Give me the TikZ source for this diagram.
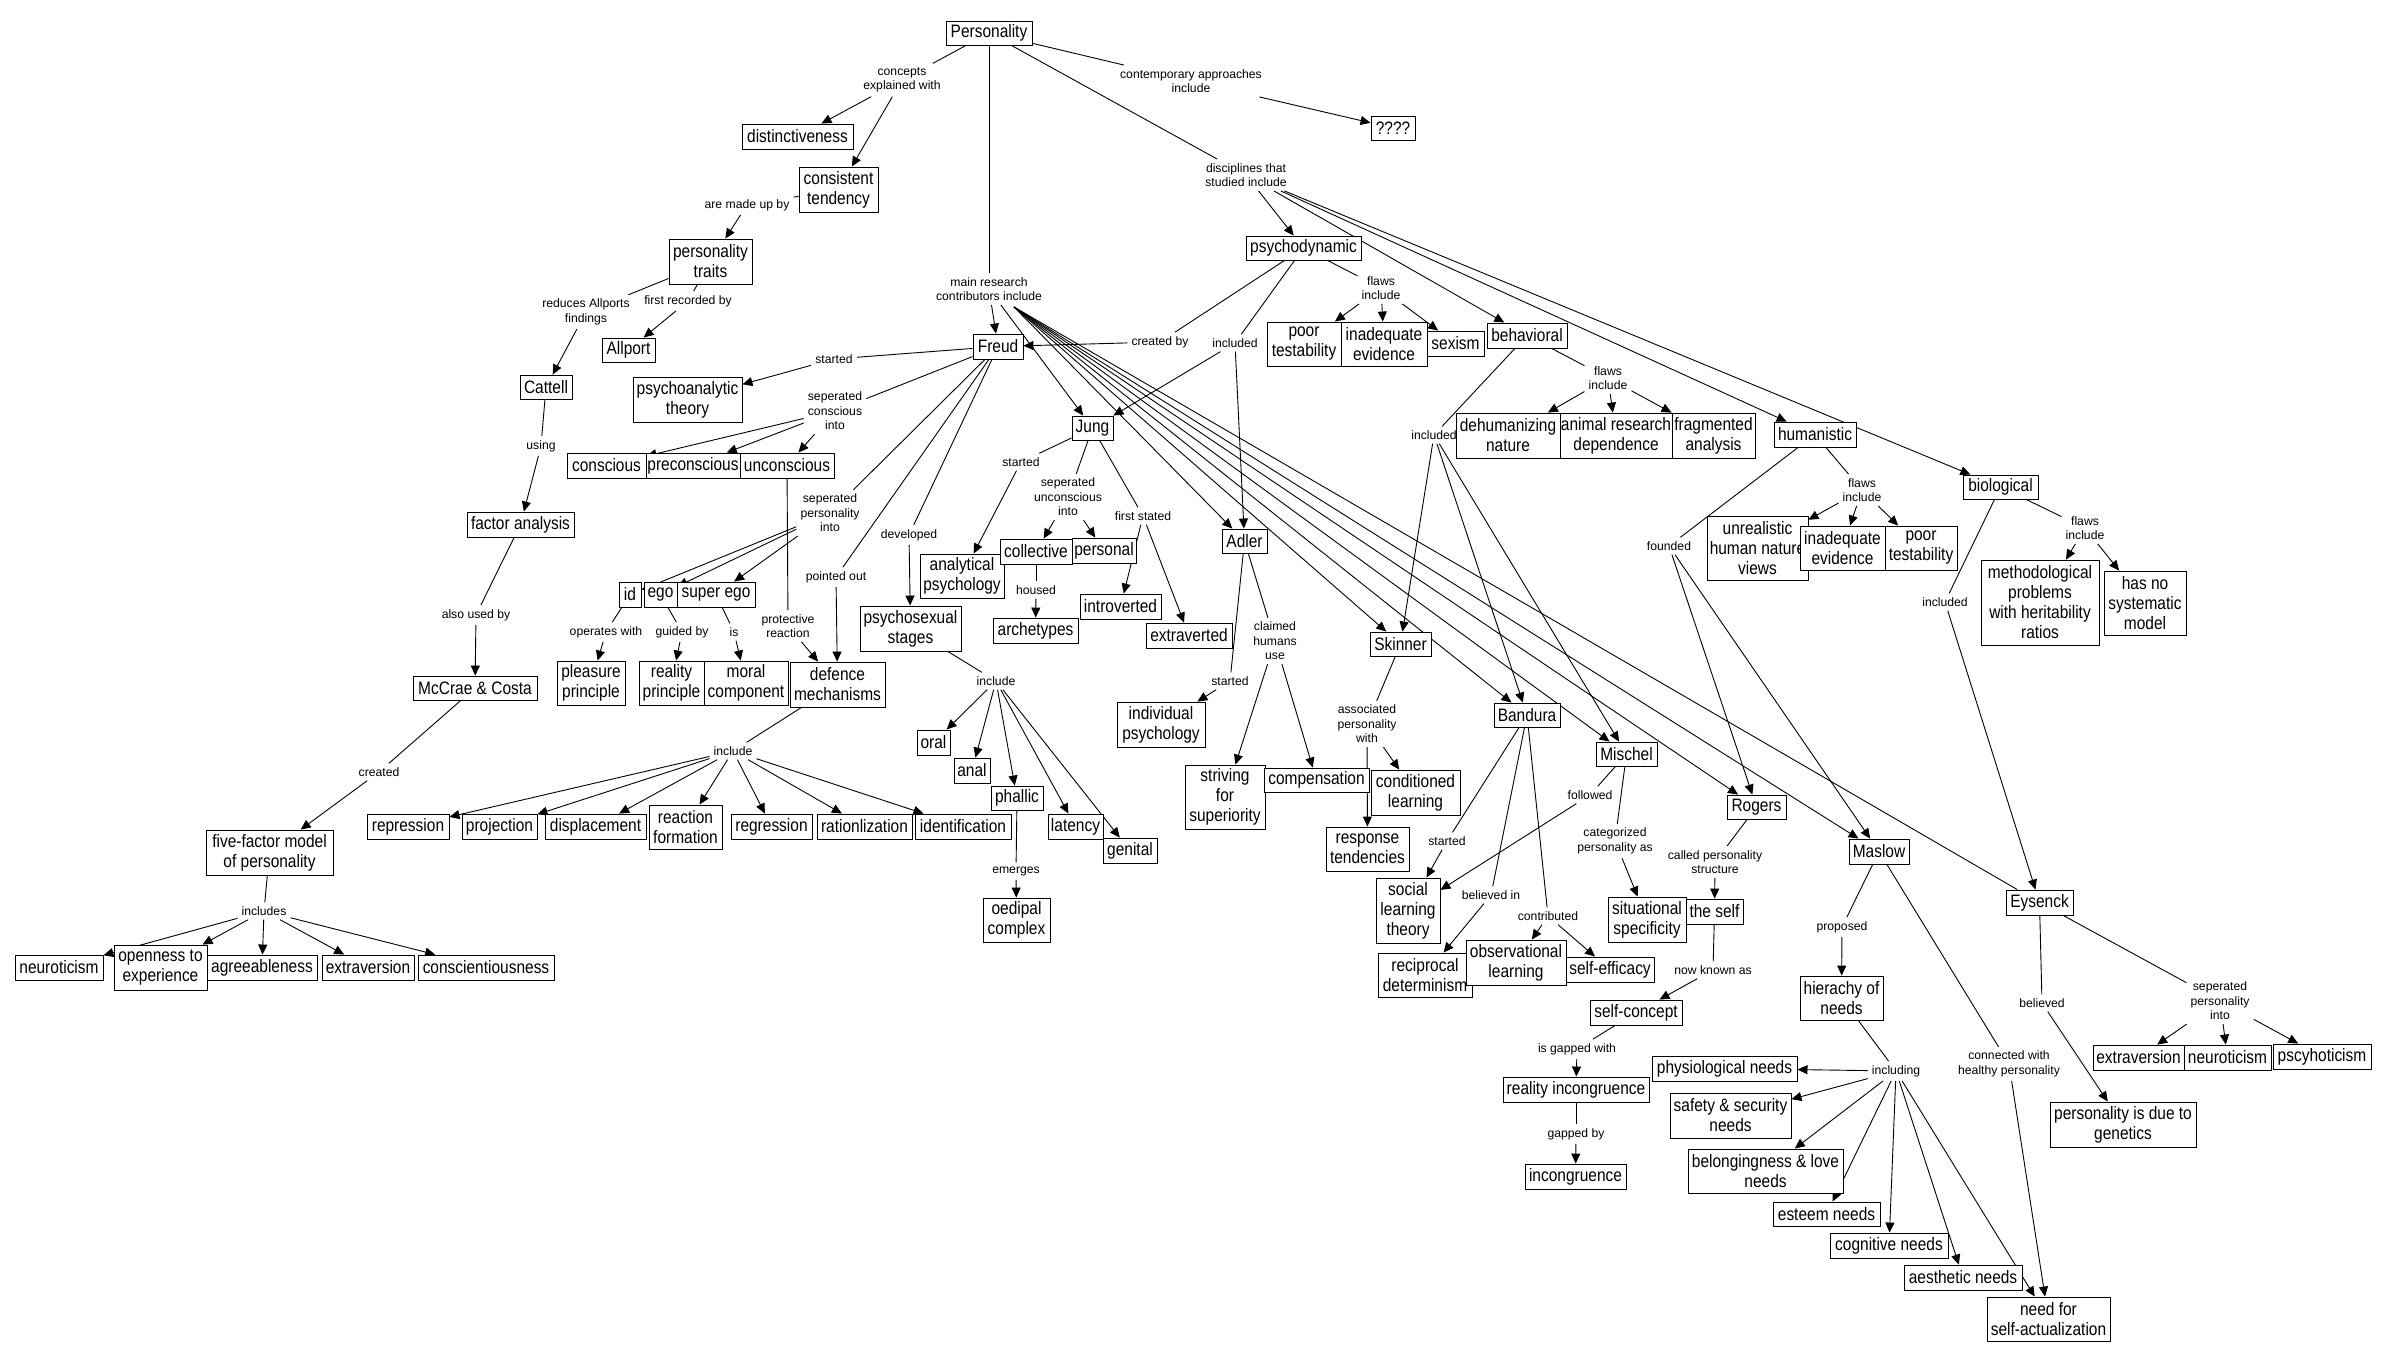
\documentclass[tikz,border=0pt]{standalone}
\usepackage{fontspec}
\usetikzlibrary{arrows.meta}
\newfontfamily\nodefont[FakeStretch=0.86]{Liberation Sans}
\newfontfamily\labfont{Liberation Sans}
\pgfdeclarelayer{bg}
\pgfsetlayers{bg,main}
\tikzset{
 cbox/.style={draw, fill=white, line width=0.9pt, inner sep=0pt, align=center, font=\nodefont\fontsize{18}{20}\selectfont},
 lab/.style={inner sep=4pt, align=center, font=\labfont\fontsize{12.2}{14.5}\selectfont},
 ln/.style={line width=0.9pt},
 arr/.style={line width=0.9pt, -{Triangle[length=10pt,width=9pt]}},
}
\newcommand\mybox[6]{\node[cbox,minimum width={#4pt-#2pt},minimum height={#5pt-#3pt}] (#1) at ({(#2+#4)/2},{(#3+#5)/2}) {#6};}
\newcommand\mylab[4]{\node[lab] (#1) at (#2,#3) {#4};}
\begin{document}
\begin{tikzpicture}[x=1pt,y=-1pt]
\begin{pgfonlayer}{bg}
\fill[white] (0,0) rectangle (2385,1361);
\end{pgfonlayer}
\useasboundingbox (0,0) rectangle (2385,1361);
% ---------- concept boxes
\mybox{pers}{946}{21}{1032}{45}{Personality}
\mybox{dist}{742}{124}{853}{149}{distinctiveness}
\mybox{cons}{799}{167}{878}{212}{consistent\\tendency}
\mybox{ptraits}{669}{239}{752}{284}{personality\\traits}
\mybox{allport}{602}{338}{655}{362}{Allport}
\mybox{psyan}{633}{377}{742}{422}{psychoanalytic\\theory}
\mybox{freud}{973}{334}{1023}{359}{Freud}
\mybox{jung}{1072}{416}{1113}{440}{Jung}
\mybox{q}{1371}{116}{1415}{140}{????}
\mybox{psydyn}{1246}{236}{1361}{260}{psychodynamic}
\mybox{poortest}{1267}{322}{1341}{366}{poor\\testability}
\mybox{inadev}{1341}{322}{1427}{366}{inadequate\\evidence}
\mybox{sexism}{1427}{331}{1484}{356}{sexism}
\mybox{behav}{1487}{323}{1567}{348}{behavioral}
\mybox{dehum}{1456}{413}{1560}{458}{dehumanizing\\nature}
\mybox{animal}{1560}{413}{1672}{458}{animal research\\dependence}
\mybox{frag}{1672}{413}{1755}{458}{fragmented\\analysis}
\mybox{human}{1774}{422}{1856}{447}{humanistic}
\mybox{bio}{1963}{475}{2038}{499}{biological}
\mybox{unreal}{1707}{516}{1808}{580}{unrealistic\\human nature\\views}
\mybox{inadev2}{1800}{526}{1885}{570}{inadequate\\evidence}
\mybox{poortest2}{1885}{526}{1957}{570}{poor\\testability}
\mybox{method}{1981}{560}{2099}{645}{methodological\\problems\\with heritability\\ratios}
\mybox{nosys}{2104}{571}{2186}{635}{has no\\systematic\\model}
\mybox{maslow}{1849}{839}{1909}{864}{Maslow}
\mybox{eysenck}{2006}{890}{2073}{915}{Eysenck}
\mybox{adler}{1222}{529}{1267}{553}{Adler}
\mybox{skinner}{1370}{632}{1431}{656}{Skinner}
\mybox{bandura}{1494}{703}{1560}{727}{Bandura}
\mybox{mischel}{1596}{742}{1657}{766}{Mischel}
\mybox{rogers}{1727}{795}{1786}{819}{Rogers}
\mybox{striving}{1185}{765}{1265}{829}{striving\\for\\superiority}
\mybox{comp}{1264}{768}{1369}{792}{compensation}
\mybox{condl}{1371}{770}{1460}{815}{conditioned\\learning}
\mybox{resp}{1326}{827}{1409}{871}{response\\tendencies}
\mybox{slt}{1376}{878}{1440}{943}{social\\learning\\theory}
\mybox{sitspec}{1608}{897}{1686}{942}{situational\\specificity}
\mybox{self}{1686}{899}{1743}{924}{the self}
\mybox{conscious}{567}{453}{646}{478}{conscious}
\mybox{precon}{646}{453}{740}{478}{preconscious}
\mybox{uncon}{740}{453}{834}{478}{unconscious}
\mybox{id}{619}{582}{641}{607}{id}
\mybox{ego}{644}{582}{677}{607}{ego}
\mybox{superego}{677}{582}{755}{607}{super ego}
\mybox{analyt}{920}{554}{1004}{598}{analytical\\psychology}
\mybox{collect}{1000}{539}{1072}{564}{collective}
\mybox{personal}{1072}{538}{1136}{563}{personal}
\mybox{arche}{993}{618}{1078}{643}{archetypes}
\mybox{intro}{1080}{594}{1161}{619}{introverted}
\mybox{extra}{1146}{623}{1232}{648}{extraverted}
\mybox{psysex}{860}{606}{961}{651}{psychosexual\\stages}
\mybox{pleasure}{557}{661}{625}{705}{pleasure\\principle}
\mybox{reality}{639}{661}{704}{705}{reality\\principle}
\mybox{moral}{704}{661}{788}{705}{moral\\component}
\mybox{defence}{790}{662}{885}{707}{defence\\mechanisms}
\mybox{reacform}{649}{805}{722}{849}{reaction\\formation}
\mybox{regress}{731}{814}{812}{839}{regression}
\mybox{ration}{817}{814}{912}{839}{rationlization}
\mybox{ident}{915}{814}{1011}{839}{identification}
\mybox{oral}{917}{730}{950}{755}{oral}
\mybox{anal}{954}{758}{990}{783}{anal}
\mybox{phallic}{991}{786}{1043}{810}{phallic}
\mybox{latency}{1048}{814}{1103}{839}{latency}
\mybox{genital}{1103}{838}{1157}{863}{genital}
\mybox{oedipal}{983}{898}{1050}{942}{oedipal\\complex}
\mybox{indiv}{1117}{702}{1205}{747}{individual\\psychology}
\mybox{factor}{467}{512}{574}{537}{factor analysis}
\mybox{mccrae}{413}{676}{537}{700}{McCrae \& Costa}
\mybox{fivef}{206}{830}{333}{875}{five-factor model\\of personality}
\mybox{repress}{367}{814}{449}{839}{repression}
\mybox{project}{462}{814}{537}{839}{projection}
\mybox{displace}{545}{814}{646}{839}{displacement}
\mybox{cattell}{520}{375}{572}{399}{Cattell}
\mybox{neuro}{15}{955}{103}{980}{neuroticism}
\mybox{open}{114}{945}{207}{990}{openness to\\experience}
\mybox{agree}{207}{955}{317}{980}{agreeableness}
\mybox{extrav}{322}{955}{414}{980}{extraversion}
\mybox{consc}{418}{955}{554}{980}{conscientiousness}
\mybox{recip}{1378}{953}{1472}{997}{reciprocal\\determinism}
\mybox{obsl}{1466}{940}{1566}{985}{observational\\learning}
\mybox{selfeff}{1566}{957}{1654}{982}{self-efficacy}
\mybox{selfcon}{1590}{1000}{1682}{1025}{self-concept}
\mybox{realinc}{1503}{1077}{1649}{1102}{reality incongruence}
\mybox{incong}{1525}{1164}{1626}{1189}{incongruence}
\mybox{physio}{1652}{1056}{1797}{1081}{physiological needs}
\mybox{safety}{1670}{1093}{1791}{1138}{safety \& security\\needs}
\mybox{belong}{1688}{1149}{1843}{1193}{belongingness \& love\\needs}
\mybox{esteem}{1773}{1202}{1880}{1226}{esteem needs}
\mybox{cogn}{1830}{1233}{1948}{1258}{cognitive needs}
\mybox{aesth}{1904}{1265}{2022}{1290}{aesthetic needs}
\mybox{selfact}{1987}{1297}{2110}{1341}{need for\\self-actualization}
\mybox{hier}{1800}{976}{1883}{1020}{hierachy of\\needs}
\mybox{genet}{2050}{1102}{2196}{1147}{personality is due to\\genetics}
\mybox{eextra}{2093}{1045}{2184}{1070}{extraversion}
\mybox{eneuro}{2184}{1045}{2271}{1070}{neuroticism}
\mybox{psycho}{2273}{1044}{2371}{1069}{pscyhoticism}
% ---------- link labels
\mylab{lconc}{902}{80}{concepts\\explained with}
\mylab{lcont}{1191}{81}{contemporary approaches\\include}
\mylab{lmain}{989}{289}{main research\\contributors include}
\mylab{ldisc}{1246}{175}{disciplines that\\studied include}
\mylab{lmade}{747}{205}{are made up by}
\mylab{lred}{586}{312}{reduces Allports\\findings}
\mylab{lfirst}{688}{301}{first recorded by}
\mylab{lusing}{541}{446}{using}
\mylab{lalso}{476}{615}{also used by}
\mylab{lcreated}{379}{772}{created}
\mylab{lincludes}{264}{911}{includes}
\mylab{lfstart}{834}{359}{started}
\mylab{lsepcon}{835}{411}{seperated\\conscious\\into}
\mylab{lsepper}{830}{513}{seperated\\personality\\into}
\mylab{lpointed}{836}{577}{pointed out}
\mylab{ldevel}{909}{535}{developed}
\mylab{lprot}{788}{626}{protective\\reaction}
\mylab{lop}{606}{632}{operates with}
\mylab{lguided}{682}{632}{guided by}
\mylab{lis}{734}{632}{is}
\mylab{ldinc}{733}{751}{include}
\mylab{lpinc}{996}{681}{include}
\mylab{lemerg}{1016}{871}{emerges}
\mylab{lcreatedby}{1160}{342}{created by}
\mylab{lpsyinc}{1235}{343}{included}
\mylab{lpflaw}{1381}{288}{flaws\\include}
\mylab{lbflaw}{1608}{378}{flaws\\include}
\mylab{lbinc}{1434}{435}{included}
\mylab{ljstart}{1021}{462}{started}
\mylab{ljsep}{1068}{497}{seperated\\unconscious\\into}
\mylab{ljfirst}{1143}{516}{first stated}
\mylab{lhoused}{1036}{590}{housed}
\mylab{lastart}{1230}{681}{started}
\mylab{lclaim}{1275}{641}{claimed\\humans\\use}
\mylab{lassoc}{1367}{724}{associated\\personality\\with}
\mylab{lbstart}{1447}{841}{started}
\mylab{lbelin}{1491}{895}{believed in}
\mylab{lcontrib}{1548}{916}{contributed}
\mylab{lfollow}{1590}{795}{followed}
\mylab{lcateg}{1615}{841}{categorized\\personality as}
\mylab{lcalled}{1715}{862}{called personality\\structure}
\mylab{lnow}{1713}{970}{now known as}
\mylab{lgapw}{1577}{1049}{is gapped with}
\mylab{lgapb}{1576}{1134}{gapped by}
\mylab{lfound}{1669}{546}{founded}
\mylab{lhflaw}{1862}{490}{flaws\\include}
\mylab{lbioflaw}{2085}{528}{flaws\\include}
\mylab{lbioinc}{1945}{602}{included}
\mylab{lprop}{1842}{927}{proposed}
\mylab{lincl}{1896}{1071}{including}
\mylab{lconn}{2009}{1064}{connected with\\healthy personality}
\mylab{lbel}{2042}{1003}{believed}
\mylab{lesep}{2220}{1001}{seperated\\personality\\into}
\coordinate (fanpt) at (1014,307);
% ---------- connectors
\begin{pgfonlayer}{bg}
\draw[ln] (pers) -- (lconc); \draw[arr] (lconc) -- (dist); \draw[arr] (lconc) -- (cons);
\draw[ln] (pers) -- (lcont); \draw[arr] (lcont) -- (q);
\draw[ln] (pers) -- (lmain);
\draw[arr] (lmain) -- (freud); \draw[arr] (lmain) -- (jung);
\foreach \t in {adler,skinner,bandura,mischel,rogers,maslow} \draw[arr] (fanpt) -- (\t);
\draw[ln] (fanpt) -- (eysenck);
\draw[ln] (pers) -- (ldisc);
\foreach \t in {psydyn,behav,human,bio} \draw[arr] (ldisc) -- (\t);
\draw[ln] (cons) -- (lmade); \draw[arr] (lmade) -- (ptraits);
\draw[ln] (ptraits) -- (lred); \draw[arr] (lred) -- (cattell);
\draw[ln] (ptraits) -- (lfirst); \draw[arr] (lfirst) -- (allport);
\draw[ln] (cattell) -- (lusing); \draw[arr] (lusing) -- (factor);
\draw[ln] (factor) -- (lalso); \draw[arr] (lalso) -- (mccrae);
\draw[ln] (mccrae) -- (lcreated); \draw[arr] (lcreated) -- (fivef);
\draw[ln] (fivef) -- (lincludes);
\foreach \t in {neuro,open,agree,extrav,consc} \draw[arr] (lincludes) -- (\t);
\draw[ln] (freud) -- (lfstart); \draw[arr] (lfstart) -- (psyan);
\draw[ln] (freud) -- (lsepcon);
\foreach \t in {conscious,precon,uncon} \draw[arr] (lsepcon) -- (\t);
\draw[ln] (freud) -- (lsepper);
\foreach \t in {id,ego,superego} \draw[arr] (lsepper) -- (\t);
\draw[ln] (freud) -- (lpointed); \draw[arr] (lpointed) -- (defence);
\draw[ln] (freud) -- (ldevel); \draw[arr] (ldevel) -- (psysex);
\draw[ln] (uncon) -- (lprot); \draw[arr] (lprot) -- (defence);
\draw[ln] (id) -- (lop); \draw[arr] (lop) -- (pleasure);
\draw[ln] (ego) -- (lguided); \draw[arr] (lguided) -- (reality);
\draw[ln] (superego) -- (lis); \draw[arr] (lis) -- (moral);
\draw[ln] (defence) -- (ldinc);
\foreach \t in {repress,project,displace,reacform,regress,ration,ident} \draw[arr] (ldinc) -- (\t);
\draw[ln] (psysex) -- (lpinc);
\foreach \t in {oral,anal,phallic,latency,genital} \draw[arr] (lpinc) -- (\t);
\draw[ln] (phallic) -- (lemerg); \draw[arr] (lemerg) -- (oedipal);
\draw[ln] (psydyn) -- (lcreatedby); \draw[arr] (lcreatedby) -- (freud);
\draw[ln] (psydyn) -- (lpsyinc); \draw[arr] (lpsyinc) -- (jung); \draw[arr] (lpsyinc) -- (adler);
\draw[ln] (psydyn) -- (lpflaw);
\foreach \t in {poortest,inadev,sexism} \draw[arr] (lpflaw) -- (\t);
\draw[ln] (behav) -- (lbflaw);
\foreach \t in {dehum,animal,frag} \draw[arr] (lbflaw) -- (\t);
\draw[ln] (behav) -- (lbinc);
\foreach \t in {skinner,bandura,mischel} \draw[arr] (lbinc) -- (\t);
\draw[ln] (jung) -- (ljstart); \draw[arr] (ljstart) -- (analyt);
\draw[ln] (jung) -- (ljsep); \draw[arr] (ljsep) -- (collect); \draw[arr] (ljsep) -- (personal);
\draw[ln] (jung) -- (ljfirst); \draw[arr] (ljfirst) -- (intro); \draw[arr] (ljfirst) -- (extra);
\draw[ln] (collect) -- (lhoused); \draw[arr] (lhoused) -- (arche);
\draw[ln] (adler) -- (lastart); \draw[arr] (lastart) -- (indiv);
\draw[ln] (adler) -- (lclaim); \draw[arr] (lclaim) -- (striving); \draw[arr] (lclaim) -- (comp);
\draw[ln] (skinner) -- (lassoc); \draw[arr] (lassoc) -- (condl); \draw[arr] (lassoc) -- (resp);
\draw[ln] (bandura) -- (lbstart); \draw[arr] (lbstart) -- (slt);
\draw[ln] (bandura) -- (lbelin); \draw[arr] (lbelin) -- (recip);
\draw[ln] (bandura) -- (lcontrib); \draw[arr] (lcontrib) -- (obsl); \draw[arr] (lcontrib) -- (selfeff);
\draw[ln] (mischel) -- (lfollow); \draw[arr] (lfollow) -- (slt);
\draw[ln] (mischel) -- (lcateg); \draw[arr] (lcateg) -- (sitspec);
\draw[ln] (rogers) -- (lcalled); \draw[arr] (lcalled) -- (self);
\draw[ln] (self) -- (lnow); \draw[arr] (lnow) -- (selfcon);
\draw[ln] (selfcon) -- (lgapw); \draw[arr] (lgapw) -- (realinc);
\draw[ln] (realinc) -- (lgapb); \draw[arr] (lgapb) -- (incong);
\draw[ln] (human) -- (lfound); \draw[arr] (lfound) -- (rogers); \draw[arr] (lfound) -- (maslow);
\draw[ln] (human) -- (lhflaw);
\foreach \t in {unreal,inadev2,poortest2} \draw[arr] (lhflaw) -- (\t);
\draw[ln] (bio) -- (lbioflaw); \draw[arr] (lbioflaw) -- (method); \draw[arr] (lbioflaw) -- (nosys);
\draw[ln] (bio) -- (lbioinc); \draw[arr] (lbioinc) -- (eysenck);
\draw[ln] (maslow) -- (lprop); \draw[arr] (lprop) -- (hier);
\draw[ln] (maslow) -- (lconn); \draw[arr] (lconn) -- (selfact);
\draw[ln] (hier) -- (lincl);
\foreach \t in {physio,safety,belong,esteem,cogn,aesth,selfact} \draw[arr] (lincl) -- (\t);
\draw[ln] (eysenck) -- (lbel); \draw[arr] (lbel) -- (genet);
\draw[ln] (eysenck) -- (lesep);
\foreach \t in {eextra,eneuro,psycho} \draw[arr] (lesep) -- (\t);
\end{pgfonlayer}
\end{tikzpicture}
\end{document}
